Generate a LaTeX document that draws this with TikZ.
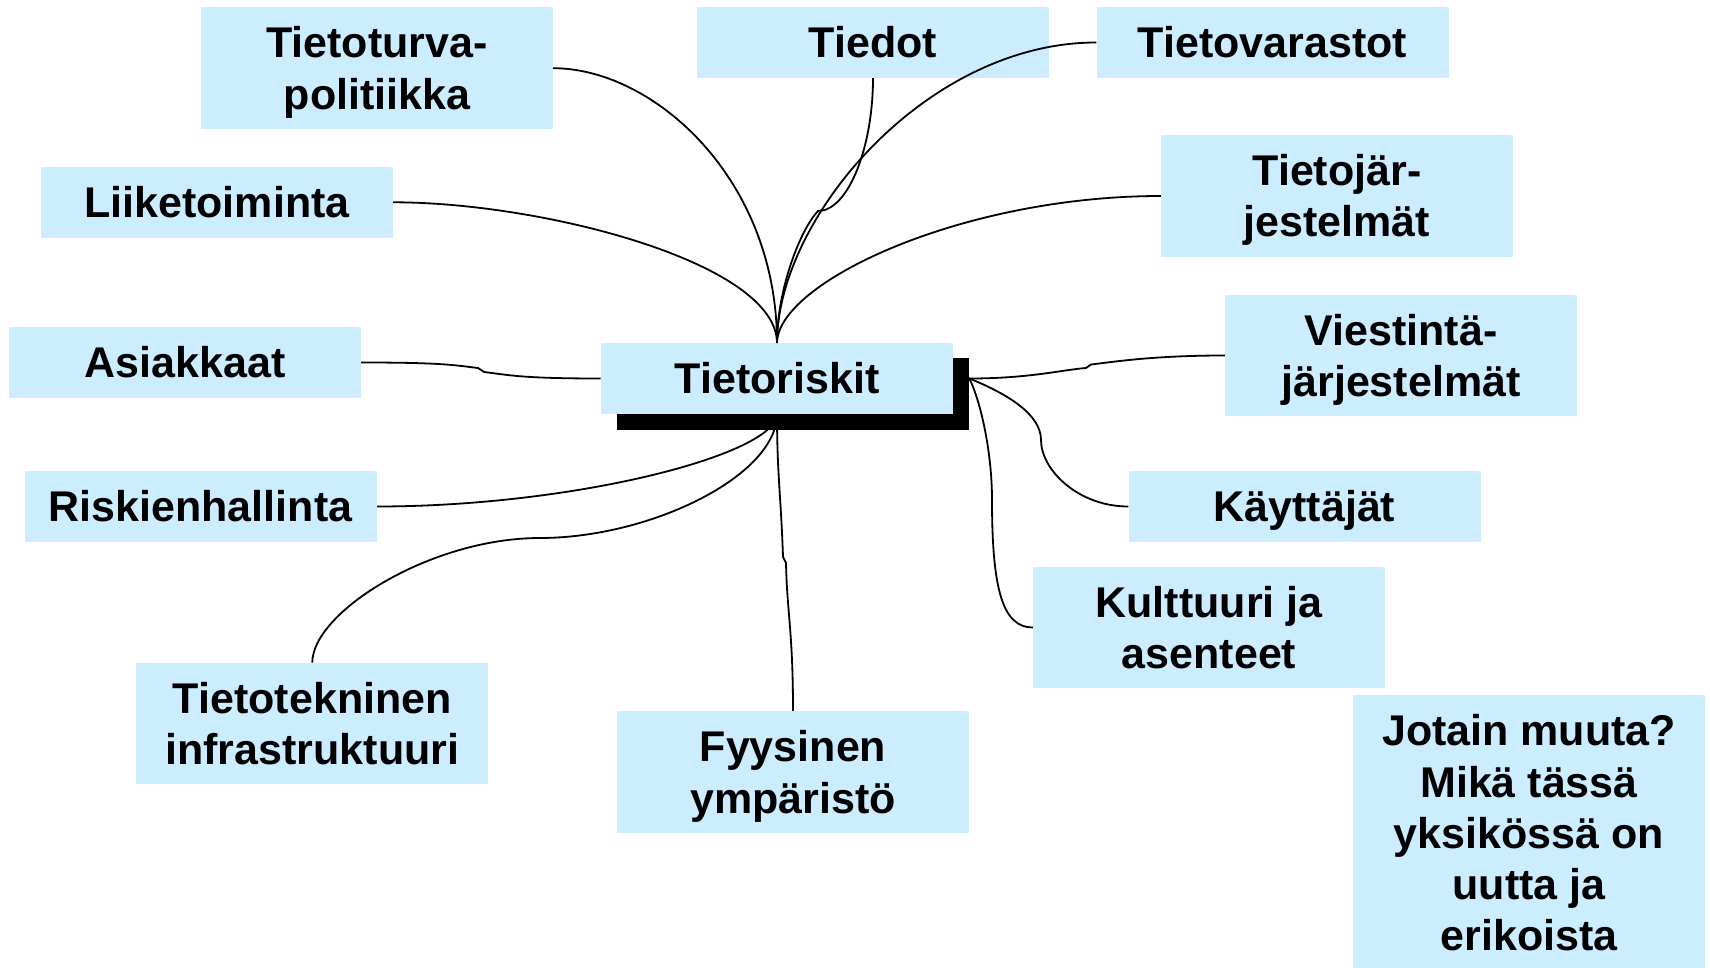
\documentclass[tikz,border=0pt]{standalone}
\usepackage{fontspec}
\setmainfont{Liberation Sans}
\definecolor{boxblue}{RGB}{204,236,255}
\newcommand{\mlines}[1]{\begin{tabular}[t]{@{}c@{}}#1\end{tabular}}
\pgfdeclarelayer{bg}
\pgfsetlayers{bg,main}
\begin{document}
\begin{tikzpicture}[x=1pt,y=-1pt,
  box/.style={fill=boxblue, draw=none, inner sep=0pt, minimum width=352pt, minimum height=70.5pt},
  tall/.style={minimum height=121.5pt},
  shadowbox/.style={fill=black, draw=none, inner sep=0pt, minimum width=352.5pt, minimum height=71.5pt},
  lbl/.style={anchor=base, inner sep=0pt, font=\fontsize{43}{51.3}\selectfont\bfseries},
  conn/.style={line width=1.8pt, draw=black}
]
\useasboundingbox (0,0) rectangle (1710,968);

% boxes
\node[box, tall] (tp) at (377,68.2) {};
\node[box] (td) at (873,42.5) {};
\node[box] (tv) at (1272.5,42.5) {};
\node[box] (lt) at (217,202.3) {};
\node[box, tall] (tj) at (1337,196) {};
\node[box] (as) at (185,362.5) {};
\node[shadowbox] (trs) at (793,394.2) {};
\node[box, minimum width=352.3pt, minimum height=70.4pt] (tr) at (777,378.5) {};
\node[box, tall] (vj) at (1401,355.5) {};
\node[box] (rh) at (200.5,506.5) {};
\node[box] (kj) at (1304.5,506.5) {};
\node[box, tall] (ka) at (1209,627.5) {};
\node[box, tall] (ti) at (312.3,723.5) {};
\node[box, tall] (fy) at (793,772) {};
\node[box, minimum height=276pt] (jm) at (1529,833) {};

% labels
\node[lbl] (tpT) at (377,57.8) {\mlines{Tietoturva-\\politiikka}};
\node[lbl] (tdT) at (873,57.9) {Tiedot};
\node[lbl] (tvT) at (1272.5,57.9) {Tietovarastot};
\node[lbl] (ltT) at (217,217.7) {Liiketoiminta};
\node[lbl] (tjT) at (1337,185.6) {\mlines{Tietojär-\\jestelmät}};
\node[lbl] (asT) at (185,377.9) {Asiakkaat};
\node[lbl] (trT) at (777,393.9) {Tietoriskit};
\node[lbl] (vjT) at (1401,345.2) {\mlines{Viestintä-\\järjestelmät}};
\node[lbl] (rhT) at (200.5,521.9) {Riskienhallinta};
\node[lbl] (kjT) at (1304.5,521.9) {Käyttäjät};
\node[lbl] (kaT) at (1209,617.2) {\mlines{Kulttuuri ja\\asenteet}};
\node[lbl] (tiT) at (312.3,713.2) {\mlines{Tietotekninen\\infrastruktuuri}};
\node[lbl] (fyT) at (793,761.7) {\mlines{Fyysinen\\ympäristö}};
\node[lbl] (jmT) at (1529,745.7) {\mlines{Jotain muuta?\\Mikä tässä\\yksikössä on\\uutta ja\\erikoista}};

% connector drawn over the Tiedot box
\draw[conn] (tv.west) .. controls +(-170,0) and +(0,-125) .. (tr.north);

% other connectors
\begin{pgfonlayer}{bg}
\draw[conn] (tp.east) .. controls +(100,0) and +(0,-165) .. (tr.north);
\draw[conn] (lt.east) .. controls +(150,0) and +(0,-80) .. (tr.north);
\draw[conn] (td.south) .. controls +(0,70) and +(30,0) .. (818,211) .. controls (800,230) and (777,290) .. (tr.north);
\draw[conn] (tj.west) .. controls +(-200,0) and +(0,-60) .. (tr.north);
\draw[conn] (as.east) .. controls +(80,0) and +(-25,-3) .. (478,368) -- (484,372) .. controls +(25,3) and +(-80,0) .. (tr.west);
\draw[conn] (rh.east) .. controls +(200,0) and +(0,40) .. (tr.south);
\draw[conn] (ti.north) .. controls +(0,-50) and +(-110,0) .. (540,538) .. controls +(110,0) and +(0,62) .. (tr.south);
\draw[conn] (fy.north) .. controls +(0,-80) and +(1,50) .. (786,563) -- (783,557) .. controls +(-2,-60) and +(0,60) .. (tr.south);
\draw[conn] (tr.east) -- ++(16,0) .. controls +(60,0) and +(-25,2) .. (1086,368) -- (1091,364.5) .. controls +(25,-3) and +(-70,0) .. (vj.west);
\draw[conn] (tr.east) -- ++(16,0) .. controls (1009,394.5) and (1041,415) .. (1041,440) .. controls +(0,30) and +(-50,0) .. (kj.west);
\draw[conn] (tr.east) -- ++(16,0) .. controls (980,400) and (992,450) .. (992,500) .. controls +(0,90) and +(-30,0) .. (ka.west);
\end{pgfonlayer}
\end{tikzpicture}
\end{document}
